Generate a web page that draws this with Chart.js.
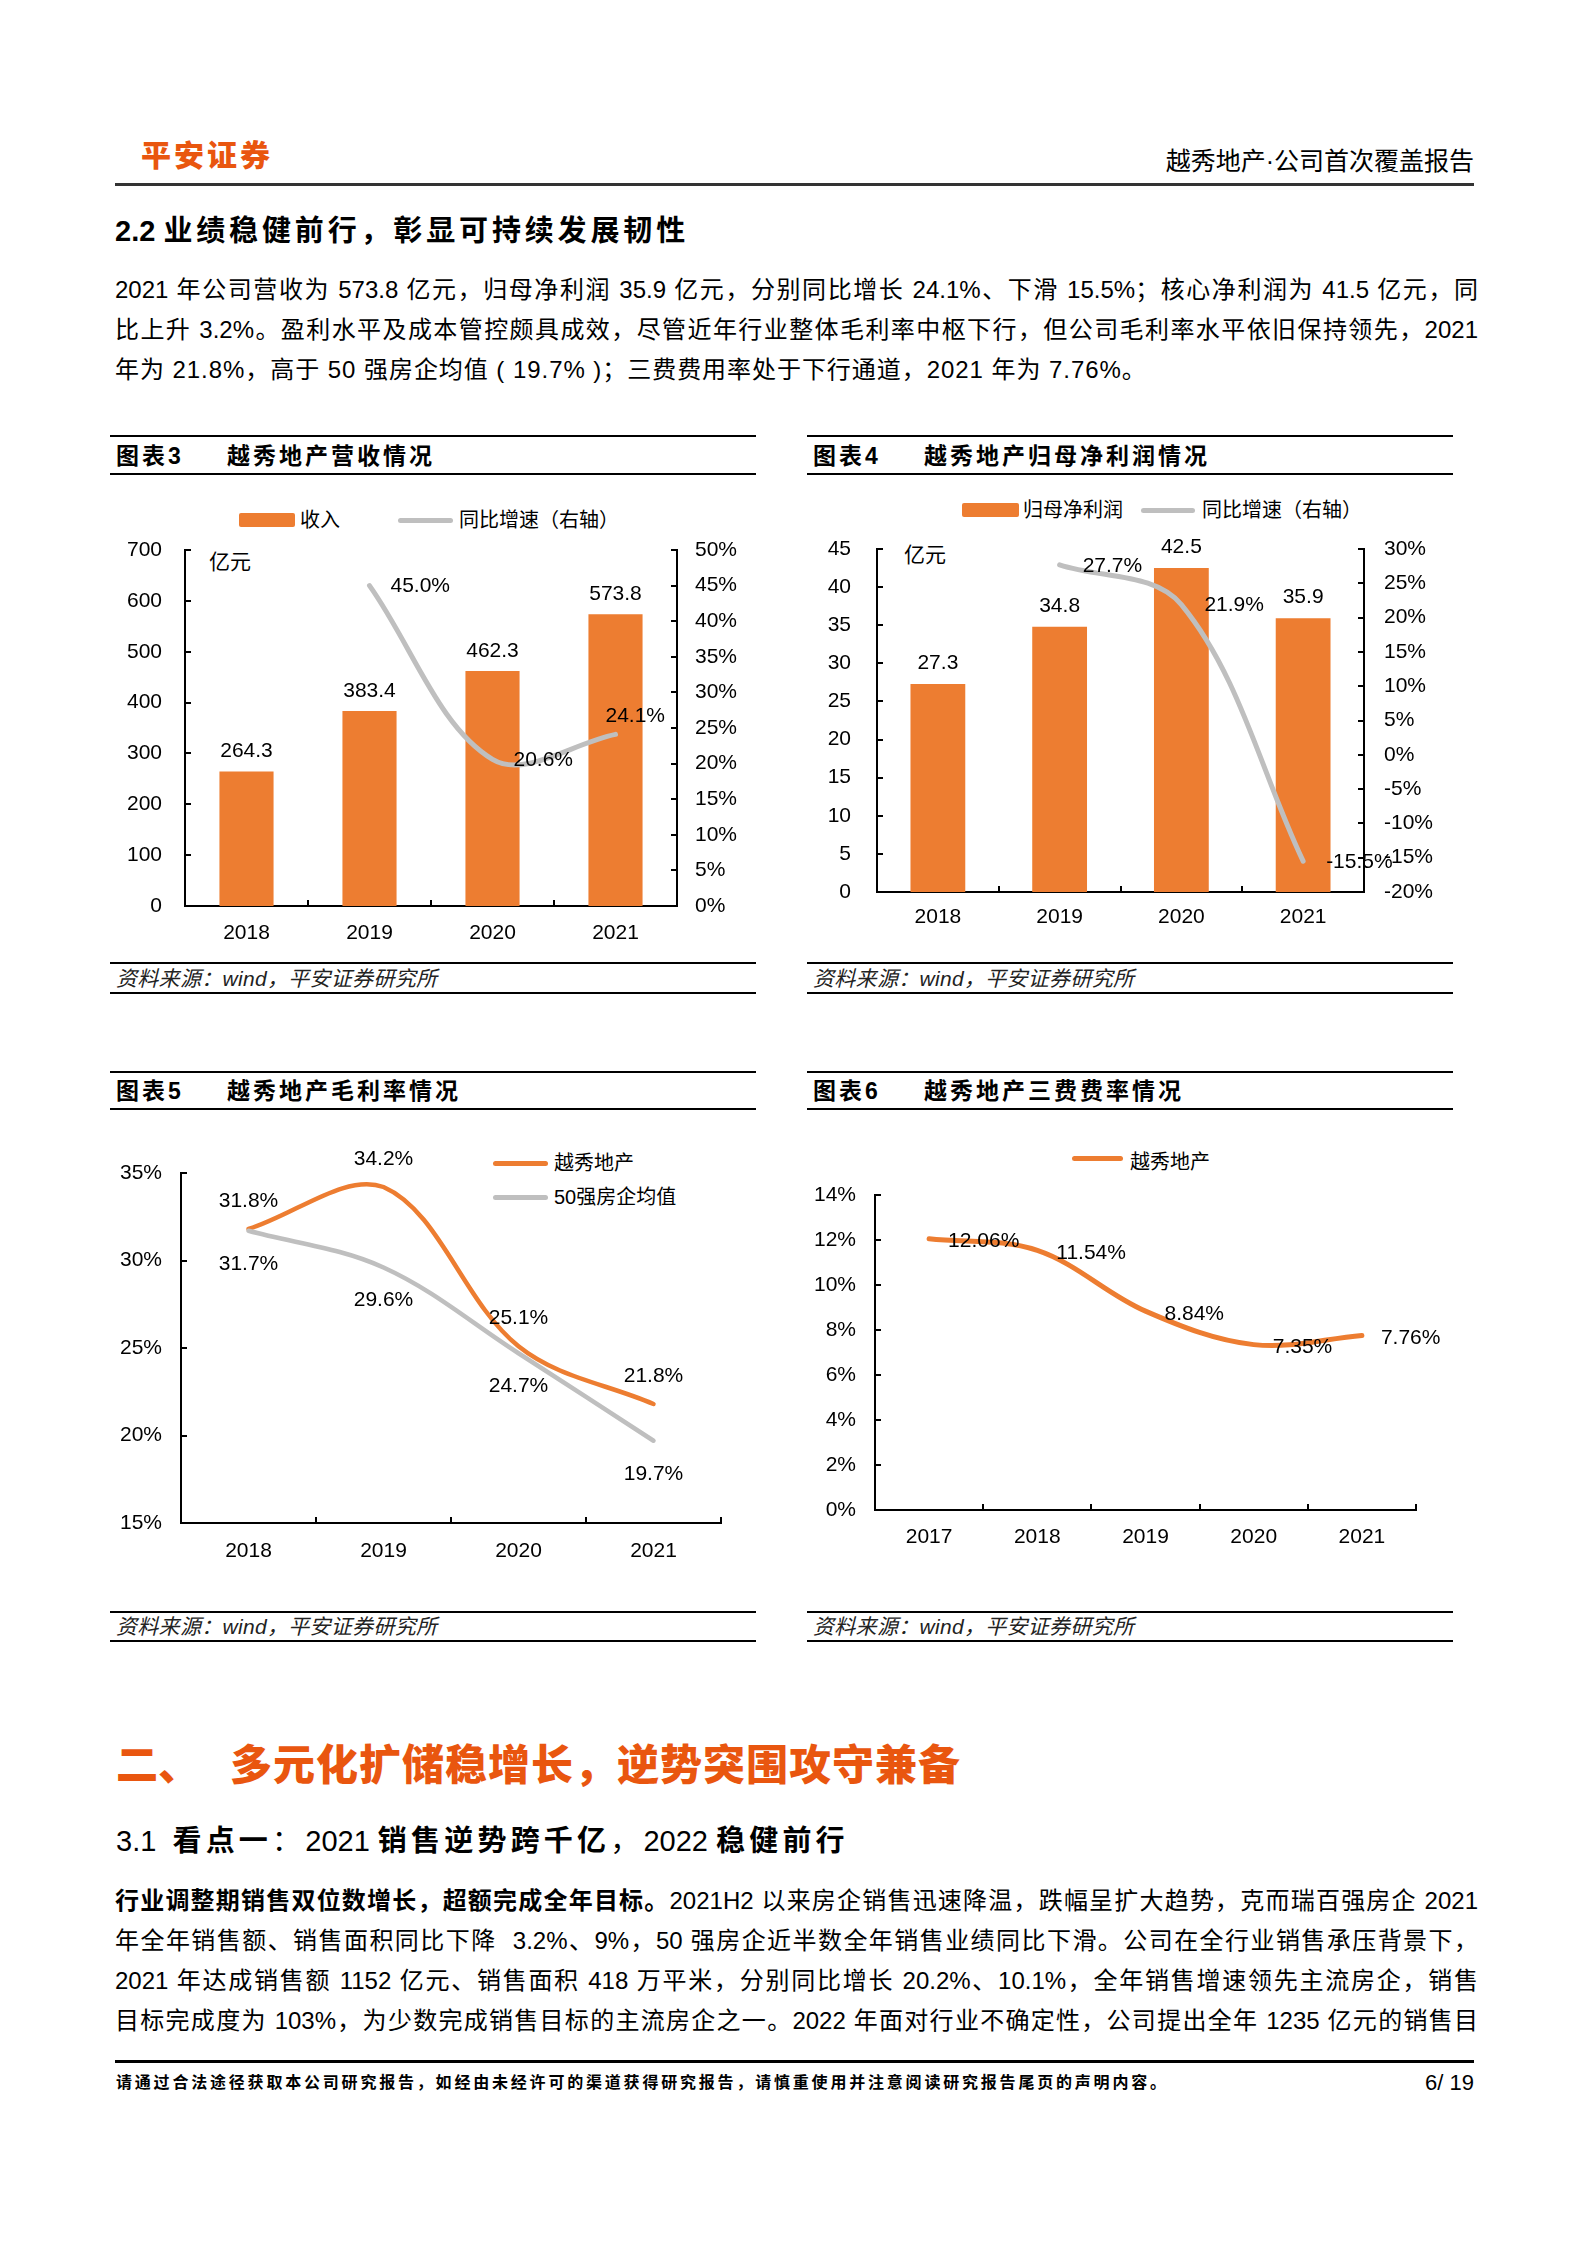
<!DOCTYPE html>
<html>
<head>
<meta charset="utf-8">
<script src="https://cdn.jsdelivr.net/npm/chart.js@4.4.1/dist/chart.umd.min.js"></script>
<style>
  body { margin: 0; background: #fff; }
  #page { position: relative; width: 1587px; height: 2245px; background: #fff; overflow: hidden;
    font-family: "Liberation Sans", "Noto Sans CJK SC", sans-serif; color: #000; }
  .t { position: absolute; line-height: 40px; white-space: nowrap; }
  .j { position: absolute; left: 115px; width: 1363px; line-height: 40px; font-size: 24px;
    text-align: justify; text-align-last: justify; white-space: nowrap; }
  .hr { position: absolute; background: #000; }
  .cap { font-size: 23px; font-weight: 700; letter-spacing: 3px; }
  .src { font-size: 21px; font-style: italic; color: #222; letter-spacing: 0.3px; }
  .lg { font-size: 20px; }
  .cs { letter-spacing: 4.2px; }
  canvas { position: absolute; }
</style>
</head>
<body>
<div id="page">
  <!-- header -->
  <div class="t" style="left:141px;top:136px;font-size:30px;font-weight:900;letter-spacing:3px;color:#E9560F">平安证券</div>
  <div class="t" style="right:113px;top:141px;font-size:25px;">越秀地产·公司首次覆盖报告</div>
  <div class="hr" style="left:115px;top:183px;width:1359px;height:3px;background:#333"></div>

  <div class="t" style="left:115px;top:211px;font-size:29px;font-weight:700">2.2 <span style="letter-spacing:3.85px">业绩稳健前行，彰显可持续发展韧性</span></div>
  <div class="j" style="top:270px">2021 年公司营收为 573.8 亿元，归母净利润 35.9 亿元，分别同比增长 24.1%、下滑 15.5%；核心净利润为 41.5 亿元，同</div>
  <div class="j" style="top:310px">比上升 3.2%。盈利水平及成本管控颇具成效，尽管近年行业整体毛利率中枢下行，但公司毛利率水平依旧保持领先，2021</div>
  <div class="t" style="left:115px;top:350px;font-size:24px;letter-spacing:0.95px">年为 21.8%，高于 50 强房企均值 ( 19.7% )；三费费用率处于下行通道，2021 年为 7.76%。</div>

  <!-- chart 3 frame -->
  <div class="hr" style="left:110px;top:435px;width:646px;height:2px"></div>
  <div class="t cap" style="left:116px;top:436px">图表3</div>
  <div class="t cap" style="left:227px;top:436px">越秀地产营收情况</div>
  <div class="hr" style="left:110px;top:473px;width:646px;height:2px"></div>
  <div class="hr" style="left:110px;top:962px;width:646px;height:2px"></div>
  <div class="t src" style="left:116px;top:959px">资料来源：wind，平安证券研究所</div>
  <div class="hr" style="left:110px;top:992px;width:646px;height:2px"></div>
  <div style="position:absolute;left:239px;top:513px;width:56px;height:14px;background:#ED7D31;border-radius:2px"></div>
  <div class="t lg" style="left:300px;top:500px">收入</div>
  <div style="position:absolute;left:398px;top:518px;width:55px;height:5px;background:#BFBFBF;border-radius:3px"></div>
  <div class="t lg" style="left:459px;top:500px">同比增速（右轴）</div>
  <div class="t" style="left:209px;top:542px;font-size:21px">亿元</div>

  <!-- chart 4 frame -->
  <div class="hr" style="left:807px;top:435px;width:646px;height:2px"></div>
  <div class="t cap" style="left:813px;top:436px">图表4</div>
  <div class="t cap" style="left:924px;top:436px">越秀地产归母净利润情况</div>
  <div class="hr" style="left:807px;top:473px;width:646px;height:2px"></div>
  <div class="hr" style="left:807px;top:962px;width:646px;height:2px"></div>
  <div class="t src" style="left:813px;top:959px">资料来源：wind，平安证券研究所</div>
  <div class="hr" style="left:807px;top:992px;width:646px;height:2px"></div>
  <div style="position:absolute;left:962px;top:503px;width:57px;height:14px;background:#ED7D31;border-radius:2px"></div>
  <div class="t lg" style="left:1023px;top:490px">归母净利润</div>
  <div style="position:absolute;left:1141px;top:508px;width:54px;height:5px;background:#BFBFBF;border-radius:3px"></div>
  <div class="t lg" style="left:1202px;top:490px">同比增速（右轴）</div>
  <div class="t" style="left:904px;top:535px;font-size:21px">亿元</div>

  <!-- chart 5 frame -->
  <div class="hr" style="left:110px;top:1071px;width:646px;height:2px"></div>
  <div class="t cap" style="left:116px;top:1071px">图表5</div>
  <div class="t cap" style="left:227px;top:1071px">越秀地产毛利率情况</div>
  <div class="hr" style="left:110px;top:1108px;width:646px;height:2px"></div>
  <div class="hr" style="left:110px;top:1611px;width:646px;height:2px"></div>
  <div class="t src" style="left:116px;top:1607px">资料来源：wind，平安证券研究所</div>
  <div class="hr" style="left:110px;top:1640px;width:646px;height:2px"></div>
  <div style="position:absolute;left:493px;top:1161px;width:55px;height:5px;background:#ED7D31;border-radius:3px"></div>
  <div class="t lg" style="left:554px;top:1143px">越秀地产</div>
  <div style="position:absolute;left:493px;top:1195px;width:55px;height:5px;background:#BFBFBF;border-radius:3px"></div>
  <div class="t lg" style="left:554px;top:1177px">50强房企均值</div>

  <!-- chart 6 frame -->
  <div class="hr" style="left:807px;top:1071px;width:646px;height:2px"></div>
  <div class="t cap" style="left:813px;top:1071px">图表6</div>
  <div class="t cap" style="left:924px;top:1071px">越秀地产三费费率情况</div>
  <div class="hr" style="left:807px;top:1108px;width:646px;height:2px"></div>
  <div class="hr" style="left:807px;top:1611px;width:646px;height:2px"></div>
  <div class="t src" style="left:813px;top:1607px">资料来源：wind，平安证券研究所</div>
  <div class="hr" style="left:807px;top:1640px;width:646px;height:2px"></div>
  <div style="position:absolute;left:1072px;top:1156px;width:51px;height:5px;background:#ED7D31;border-radius:3px"></div>
  <div class="t lg" style="left:1130px;top:1142px">越秀地产</div>

  <canvas id="c3" width="650" height="450" style="left:110px;top:510px"></canvas>
  <canvas id="c4" width="650" height="451" style="left:808px;top:509px"></canvas>
  <canvas id="c5" width="650" height="460" style="left:110px;top:1130px"></canvas>
  <canvas id="c6" width="650" height="460" style="left:808px;top:1130px"></canvas>

  <!-- section 3 -->
  <div class="t" style="left:116px;top:1746px;font-size:42px;font-weight:900;color:#E9560F">二、</div>
  <div class="t" style="left:230px;top:1746px;font-size:42px;font-weight:900;letter-spacing:1px;color:#E9560F">多元化扩储稳增长，逆势突围攻守兼备</div>
  <div class="t" style="left:116px;top:1821px;font-size:29px">3.1&nbsp;&nbsp;<b class="cs">看点一</b><span class="cs">：</span>2021 <b class="cs">销售逆势跨千亿</b><span class="cs">，</span>2022 <b class="cs">稳健前行</b></div>
  <div class="j" style="top:1881px"><b>行业调整期销售双位数增长，超额完成全年目标。</b>2021H2 以来房企销售迅速降温，跌幅呈扩大趋势，克而瑞百强房企 2021</div>
  <div class="j" style="top:1921px">年全年销售额、销售面积同比下降&nbsp; 3.2%、9%，50 强房企近半数全年销售业绩同比下滑。公司在全行业销售承压背景下，</div>
  <div class="j" style="top:1961px">2021 年达成销售额 1152 亿元、销售面积 418 万平米，分别同比增长 20.2%、10.1%，全年销售增速领先主流房企，销售</div>
  <div class="j" style="top:2001px">目标完成度为 103%，为少数完成销售目标的主流房企之一。2022 年面对行业不确定性，公司提出全年 1235 亿元的销售目</div>

  <div class="hr" style="left:115px;top:2060px;width:1359px;height:3px"></div>
  <div class="t" style="left:116px;top:2063px;font-size:16px;font-weight:700;letter-spacing:2.8px">请通过合法途径获取本公司研究报告，如经由未经许可的渠道获得研究报告，请慎重使用并注意阅读研究报告尾页的声明内容。</div>
  <div class="t" style="right:113px;top:2063px;font-size:22px">6/ 19</div>
</div>

<script>
// --- DATA ---
const years4 = ['2018', '2019', '2020', '2021'];
const years5 = ['2017', '2018', '2019', '2020', '2021'];

const revenue = [264.3, 383.4, 462.3, 573.8];          // 亿元
const revenueYoY = [null, 45.0, 20.6, 24.1];           // %
const netProfit = [27.3, 34.8, 42.5, 35.9];            // 亿元
const netProfitYoY = [null, 27.7, 21.9, -15.5];        // %
const grossMarginYX = [31.8, 34.2, 25.1, 21.8];        // 越秀地产 %
const grossMarginTop50 = [31.7, 29.6, 24.7, 19.7];     // 50强房企均值 %
const expenseRate = [12.06, 11.54, 8.84, 7.35, 7.76];  // 三费费率 %

// --- STYLE ---
const ORANGE = '#ED7D31';
const GRAY = '#BFBFBF';
const FONT = { family: '"Liberation Sans", "Noto Sans CJK SC", sans-serif', size: 21 };
Chart.defaults.font.family = FONT.family;
Chart.defaults.color = '#000';

// value labels next to bars / points
const valueLabels = {
  id: 'valueLabels',
  afterDatasetsDraw(chart, args, opts) {
    const ctx = chart.ctx;
    ctx.save();
    ctx.font = FONT.size + 'px ' + FONT.family;
    ctx.fillStyle = '#000';
    ctx.textBaseline = 'middle';
    (opts.sets || []).forEach((set, di) => {
      if (!set) return;
      const meta = chart.getDatasetMeta(di);
      const data = chart.data.datasets[di].data;
      meta.data.forEach((el, i) => {
        const v = data[i];
        if (v === null || v === undefined) return;
        const o = (set.each && set.each[i]) || {};
        ctx.textAlign = o.align || set.align || 'center';
        const dx = o.dx !== undefined ? o.dx : (set.dx || 0);
        const dy = o.dy !== undefined ? o.dy : (set.dy || 0);
        ctx.fillText(set.fmt(v), el.x + dx, el.y + dy);
      });
    });
    ctx.restore();
  }
};

// short tick marks pointing into the plot, like the Excel original
const innerTicks = {
  id: 'innerTicks',
  afterDraw(chart) {
    const ctx = chart.ctx, a = chart.chartArea, len = 6;
    ctx.save();
    ctx.strokeStyle = '#000';
    ctx.lineWidth = 2;
    ctx.beginPath();
    Object.values(chart.scales).forEach(s => {
      if (s.axis === 'y') {
        const x0 = s.position === 'left' ? a.left : a.right;
        const dir = s.position === 'left' ? 1 : -1;
        s.ticks.forEach(t => {
          const y = Math.round(s.getPixelForValue(t.value));
          ctx.moveTo(x0, y); ctx.lineTo(x0 + dir * len, y);
        });
      } else {
        const n = chart.data.labels.length;
        const half = (s.getPixelForValue(1) - s.getPixelForValue(0)) / 2;
        for (let i = 0; i < n; i++) {
          const x = Math.round(s.getPixelForValue(i) + half);
          ctx.moveTo(x, a.bottom); ctx.lineTo(x, a.bottom - len);
        }
      }
    });
    ctx.stroke();
    ctx.restore();
  }
};

const border = { display: true, color: '#000', width: 2 };
const noGrid = { display: false, drawTicks: false, tickLength: 0 };

function xAxis(h, pad) {
  return { type: 'category', offset: true, grid: noGrid, border,
    ticks: { font: FONT, color: '#000', padding: pad, maxRotation: 0, autoSkip: false },
    afterFit: s => { s.height = h; } };
}
function yAxis(pos, min, max, step, w, pad, pct) {
  return { type: 'linear', position: pos, min, max, grid: noGrid, border,
    ticks: { font: FONT, color: '#000', stepSize: step, padding: pad,
      callback: v => pct ? v + '%' : v },
    afterFit: s => { s.width = w; } };
}
const baseOpts = (pad) => ({
  responsive: false, animation: false, devicePixelRatio: 1,
  layout: { autoPadding: false, padding: pad },
  plugins: { legend: { display: false }, tooltip: { enabled: false } }
});

// --- 图表3 营收 ---
new Chart(document.getElementById('c3'), {
  type: 'bar',
  data: {
    labels: years4,
    datasets: [
      { label: '同比增速（右轴）', type: 'line', data: revenueYoY, yAxisID: 'y1', order: 0,
        borderColor: GRAY, borderWidth: 5, pointRadius: 0, tension: 0.35, spanGaps: true, borderCapStyle: 'round' },
      { label: '收入', data: revenue, yAxisID: 'y', order: 1, backgroundColor: ORANGE,
        categoryPercentage: 1, barPercentage: 0.44 }
    ]
  },
  options: Object.assign(baseOpts({ top: 40, left: 0, right: 0, bottom: 0 }), {
    scales: { x: xAxis(54, 15), y: yAxis('left', 0, 700, 100, 75, 23, false), y1: yAxis('right', 0, 50, 5, 83, 18, true) },
    plugins: { legend: { display: false }, tooltip: { enabled: false },
      valueLabels: { sets: [
        { fmt: v => v.toFixed(1) + '%', align: 'left', dx: 21, dy: 1, each: { 3: { dx: -10, dy: -18 } } },
        { fmt: v => v.toFixed(1), dy: -20 }
      ] } }
  }),
  plugins: [valueLabels, innerTicks]
});

// --- 图表4 归母净利润 ---
new Chart(document.getElementById('c4'), {
  type: 'bar',
  data: {
    labels: years4,
    datasets: [
      { label: '同比增速（右轴）', type: 'line', data: netProfitYoY, yAxisID: 'y1', order: 0,
        borderColor: GRAY, borderWidth: 5, pointRadius: 0, tension: 0.35, spanGaps: true, borderCapStyle: 'round' },
      { label: '归母净利润', data: netProfit, yAxisID: 'y', order: 1, backgroundColor: ORANGE,
        categoryPercentage: 1, barPercentage: 0.45 }
    ]
  },
  options: Object.assign(baseOpts({ top: 40, left: 0, right: 0, bottom: 0 }), {
    scales: { x: xAxis(68, 13), y: yAxis('left', 0, 45, 5, 69, 26, false), y1: yAxis('right', -20, 30, 5, 94, 20, true) },
    plugins: { legend: { display: false }, tooltip: { enabled: false },
      valueLabels: { sets: [
        { fmt: v => v.toFixed(1) + '%', align: 'left', dx: 23, dy: 1 },
        { fmt: v => v.toFixed(1), dy: -21 }
      ] } }
  }),
  plugins: [valueLabels, innerTicks]
});

// --- 图表5 毛利率 ---
new Chart(document.getElementById('c5'), {
  type: 'line',
  data: {
    labels: years4,
    datasets: [
      { label: '越秀地产', data: grossMarginYX, order: 1, borderColor: ORANGE, borderWidth: 4.5,
        pointRadius: 0, tension: 0.35, borderCapStyle: 'round' },
      { label: '50强房企均值', data: grossMarginTop50, order: 0, borderColor: GRAY, borderWidth: 4.5,
        pointRadius: 0, tension: 0.35, borderCapStyle: 'round' }
    ]
  },
  options: Object.assign(baseOpts({ top: 43, left: 0, right: 39, bottom: 0 }), {
    scales: { x: xAxis(67, 16), y: yAxis('left', 15, 35, 5, 71, 19, true) },
    plugins: { legend: { display: false }, tooltip: { enabled: false },
      valueLabels: { sets: [
        { fmt: v => v.toFixed(1) + '%', dy: -28 },
        { fmt: v => v.toFixed(1) + '%', dy: 33 }
      ] } }
  }),
  plugins: [valueLabels, innerTicks]
});

// --- 图表6 三费费率 ---
new Chart(document.getElementById('c6'), {
  type: 'line',
  data: {
    labels: years5,
    datasets: [
      { label: '越秀地产', data: expenseRate, borderColor: ORANGE, borderWidth: 5,
        pointRadius: 0, tension: 0.35, borderCapStyle: 'round' }
    ]
  },
  options: Object.assign(baseOpts({ top: 65, left: 0, right: 42, bottom: 0 }), {
    scales: { x: xAxis(80, 15), y: yAxis('left', 0, 14, 2, 67, 19, true) },
    plugins: { legend: { display: false }, tooltip: { enabled: false },
      valueLabels: { sets: [
        { fmt: v => v.toFixed(2) + '%', align: 'left', dx: 19, dy: 3 }
      ] } }
  }),
  plugins: [valueLabels, innerTicks]
});
</script>
</body>
</html>
